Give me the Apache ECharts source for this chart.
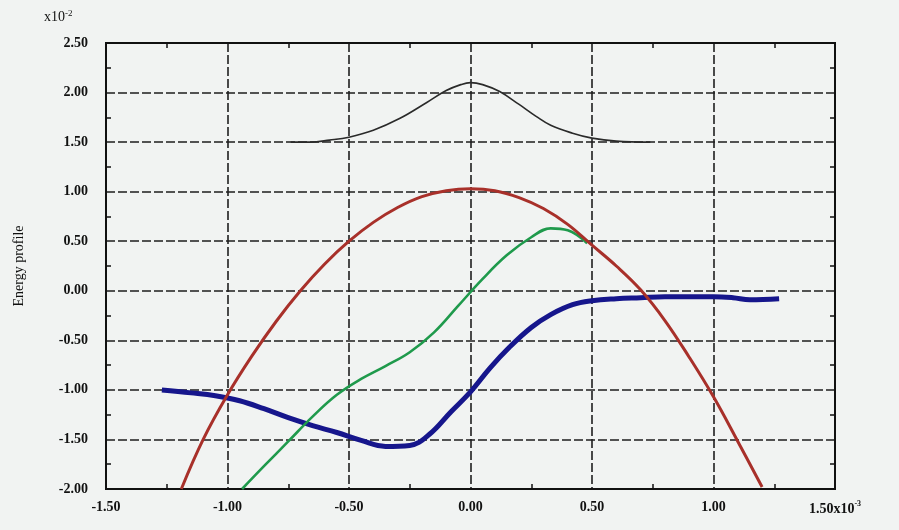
<!DOCTYPE html>
<html>
<head>
<meta charset="utf-8">
<script src="https://cdn.jsdelivr.net/npm/echarts@6/dist/echarts.min.js"></script>
<style>
  html, body { margin: 0; padding: 0; background: #f1f3f2; }
  #chart { width: 899px; height: 530px; }
</style>
</head>
<body>
<div id="chart"></div>
<script>
// values (x in units of 1e-3, y in units of 1e-2)
var xTicks = [-1.5, -1.0, -0.5, 0.0, 0.5, 1.0, 1.5];
var yTicks = [-2.0, -1.5, -1.0, -0.5, 0.0, 0.5, 1.0, 1.5, 2.0, 2.5];

var blackX = [-0.74, -0.66, -0.58, -0.5, -0.4, -0.29, -0.18, -0.1, -0.04, 0.0, 0.05, 0.12, 0.2, 0.27, 0.33, 0.42, 0.5, 0.6, 0.74];
var blackY = [1.50, 1.50, 1.52, 1.55, 1.62, 1.74, 1.90, 2.02, 2.08, 2.10, 2.08, 2.01, 1.88, 1.76, 1.67, 1.59, 1.54, 1.51, 1.50];

var redX = [-1.19, -1.1, -1.0, -0.9, -0.8, -0.7, -0.6, -0.5, -0.4, -0.3, -0.2, -0.1, 0.0, 0.1, 0.2, 0.3, 0.4, 0.5, 0.6, 0.7, 0.8, 0.9, 1.0, 1.1, 1.2];
var redY = [-2.0, -1.5, -1.05, -0.66, -0.31, 0.0, 0.27, 0.5, 0.69, 0.84, 0.95, 1.01, 1.03, 1.01, 0.94, 0.83, 0.67, 0.46, 0.25, 0.01, -0.3, -0.67, -1.07, -1.52, -1.98];

var greenX = [-0.94, -0.85, -0.75, -0.65, -0.55, -0.45, -0.35, -0.25, -0.15, -0.05, 0.05, 0.15, 0.25, 0.33, 0.4, 0.48];
var greenY = [-2.0, -1.77, -1.52, -1.27, -1.05, -0.89, -0.76, -0.62, -0.42, -0.15, 0.12, 0.36, 0.54, 0.63, 0.61, 0.48];

var blueX = [-1.27, -1.15, -1.05, -0.95, -0.85, -0.75, -0.65, -0.55, -0.45, -0.35, -0.25, -0.17, -0.08, 0.0, 0.08, 0.16, 0.25, 0.33, 0.42, 0.5, 0.6, 0.7, 0.8, 0.9, 1.0, 1.08, 1.15, 1.27];
var blueY = [-1.0, -1.03, -1.06, -1.11, -1.19, -1.28, -1.36, -1.43, -1.51, -1.57, -1.56, -1.45, -1.22, -1.02, -0.78, -0.57, -0.37, -0.24, -0.14, -0.1, -0.08, -0.07, -0.06, -0.06, -0.06, -0.07, -0.09, -0.08];

function pairs(xs, ys) {
    var out = [];
    for (var i = 0; i < xs.length; i++) {
        out.push([xs[i], ys[i]]);
    }
    return out;
}

var serif = '"Liberation Serif", "DejaVu Serif", serif';
var gridLine = { show: true, lineStyle: { color: '#1e1e1e', width: 1.6, type: [9, 3] } };
var minor = { show: true, splitNumber: 2, length: 5, lineStyle: { color: '#111', width: 1.5 } };
var tick = { show: false, inside: true };

var chart = echarts.init(document.getElementById('chart'), null, { renderer: 'canvas' });
chart.setOption({
    backgroundColor: '#f1f3f2',
    animation: false,
    grid: { left: 106, right: 64, top: 43, bottom: 41, show: true, borderColor: '#111', borderWidth: 2 },
    graphic: [{
        type: 'text', left: 44, top: 9,
        style: {
            text: '{a|x10}{s|-2}',
            rich: {
                a: { font: '14px ' + serif, fill: '#111' },
                s: { font: '9px ' + serif, fill: '#111', verticalAlign: 'top', padding: [0, 0, 8, 0] }
            }
        }
    }],
    xAxis: [{
        type: 'value', min: xTicks[0], max: xTicks[xTicks.length - 1], interval: 0.5,
        axisLine: { onZero: false, lineStyle: { color: '#111', width: 2 } },
        axisTick: tick,
        minorTick: minor,
        splitLine: gridLine,
        axisLabel: {
            margin: 11,
            color: '#111',
            fontFamily: serif,
            fontSize: 14,
            fontWeight: 'bold',
            formatter: function (v) {
                var s = v.toFixed(2);
                if (v >= 1.5) return '{n|' + s + 'x10}{s|-3}';
                return '{n|' + s + '}';
            },
            rich: {
                n: { fontFamily: serif, fontSize: 14, color: '#111' },
                s: { fontFamily: serif, fontSize: 8, color: '#111', verticalAlign: 'top', padding: [0, 0, 10, 0] }
            }
        }
    }, {
        type: 'value', position: 'top', min: xTicks[0], max: xTicks[xTicks.length - 1], interval: 0.5,
        axisLine: { show: true, onZero: false, lineStyle: { color: '#111', width: 2 } },
        axisTick: tick,
        minorTick: minor,
        axisLabel: { show: false },
        splitLine: { show: false }
    }],
    yAxis: [{
        type: 'value', min: yTicks[0], max: yTicks[yTicks.length - 1], interval: 0.5,
        name: 'Energy profile',
        nameLocation: 'middle',
        nameGap: 80,
        nameTextStyle: { fontFamily: serif, fontSize: 14, color: '#111' },
        axisLine: { show: true, onZero: false, lineStyle: { color: '#111', width: 2 } },
        axisTick: tick,
        minorTick: minor,
        splitLine: gridLine,
        axisLabel: {
            margin: 18,
            color: '#111',
            fontFamily: serif,
            fontSize: 14,
            fontWeight: 'bold',
            formatter: function (v) { return v.toFixed(2); }
        }
    }, {
        type: 'value', position: 'right', min: yTicks[0], max: yTicks[yTicks.length - 1], interval: 0.5,
        axisLine: { show: true, onZero: false, lineStyle: { color: '#111', width: 2 } },
        axisTick: tick,
        minorTick: minor,
        axisLabel: { show: false },
        splitLine: { show: false }
    }],
    series: [
        {
            name: 'black', type: 'line', smooth: 0.4, showSymbol: false,
            data: pairs(blackX, blackY),
            lineStyle: { color: '#2a2a2a', width: 1.6 }
        },
        {
            name: 'blue', type: 'line', smooth: 0.4, showSymbol: false,
            data: pairs(blueX, blueY),
            lineStyle: { color: '#16168c', width: 5 }
        },
        {
            name: 'green', type: 'line', smooth: 0.4, showSymbol: false,
            data: pairs(greenX, greenY),
            lineStyle: { color: '#1f9a4c', width: 2.6 }
        },
        {
            name: 'red', type: 'line', smooth: 0.4, showSymbol: false,
            data: pairs(redX, redY),
            lineStyle: { color: '#a8302a', width: 3 }
        }
    ]
});
</script>
</body>
</html>
